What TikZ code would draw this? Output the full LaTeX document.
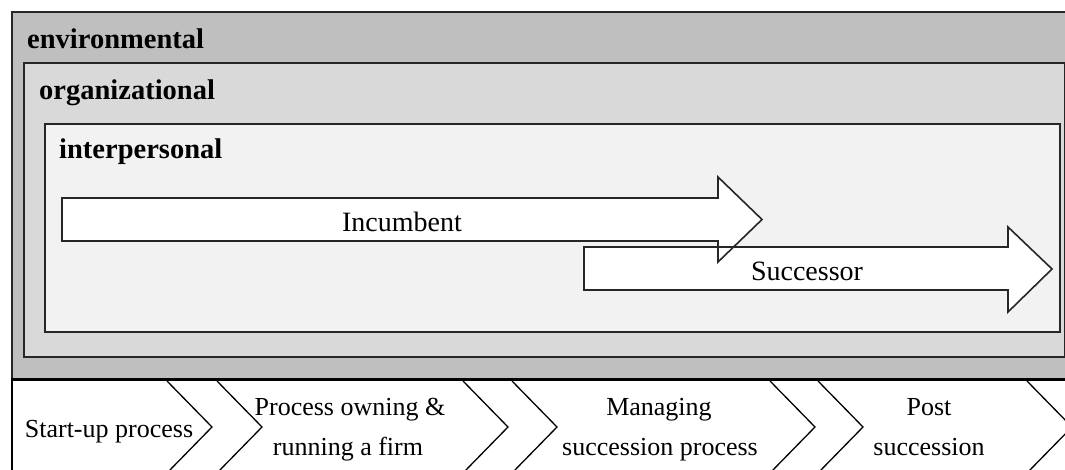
\documentclass[tikz,border=0pt]{standalone}
\usepackage{fontspec}
\setmainfont{Liberation Serif}
\definecolor{envgrey}{HTML}{BFBFBF}
\definecolor{orggrey}{HTML}{D9D9D9}
\definecolor{intgrey}{HTML}{F2F2F2}
\tikzset{
  frame/.style={draw=black!85, line width=1.6pt},
  arrowfill/.style={fill=white},
  arrowline/.style={draw=black!85, line width=1.6pt, line join=miter},
  levellabel/.style={font=\fontsize{28.5}{34}\selectfont\bfseries, anchor=base west, inner sep=0pt},
  arrowlabel/.style={font=\fontsize{28}{34}\selectfont, anchor=base, inner sep=0pt},
  steplabel/.style={font=\fontsize{26}{40}\selectfont, anchor=base, inner sep=0pt},
  chevron/.style={draw=black, line width=1.3pt},
}
\begin{document}
\begin{tikzpicture}[x=1pt, y=-1pt]
\useasboundingbox (0,0) rectangle (1065,469);
\clip (0,0) rectangle (1065,469);
\fill[white] (0,0) rectangle (1065,469);

% nested context levels
\draw[frame, fill=envgrey] (12,12) rectangle (1080,379);
\draw[frame, fill=orggrey] (24,63) rectangle (1064.5,357);
\draw[frame, fill=intgrey] (45,124) rectangle (1060,332);

\node[levellabel] (env) at (27,48) {environmental};
\node[levellabel] (org) at (39,99) {organizational};
\node[levellabel] (inter) at (59,158) {interpersonal};

% incumbent and successor arrows: fills first, then outlines
\path[arrowfill] (62,198) -- (718,198) -- (718,177) -- (762,219.5) -- (718,262) -- (718,241) -- (62,241) -- cycle;
\path[arrowfill] (584,247) -- (1008,247) -- (1008,227) -- (1052,269) -- (1008,312) -- (1008,290) -- (584,290) -- cycle;
\draw[arrowline] (62,198) -- (718,198) -- (718,177) -- (762,219.5) -- (718,262) -- (718,241) -- (62,241) -- cycle;
\draw[arrowline] (584,247) -- (1008,247) -- (1008,227) -- (1052,269) -- (1008,312) -- (1008,290) -- (584,290) -- cycle;

\node[arrowlabel] (inc) at (402,231) {Incumbent};
\node[arrowlabel] (suc) at (807,280) {Successor};

% process phases
\draw[line width=1.2pt] (12,379) -- (12,480);
\draw[line width=3pt] (11,379) -- (1080,379);

\draw[chevron] (167,381) -- (212,427) -- (167,473);
\draw[chevron] (217,381) -- (262,427) -- (217,473);
\draw[chevron] (463,381) -- (508,427) -- (463,473);
\draw[chevron] (512,381) -- (557,427) -- (512,473);
\draw[chevron] (770,381) -- (815,427) -- (770,473);
\draw[chevron] (818,381) -- (863,427) -- (818,473);
\draw[chevron] (1027,381) -- (1072,427) -- (1027,473);

\node[steplabel] (s1) at (109,437) {Start-up process};
\node[steplabel] (s2a) at (350,415) {Process owning \&};
\node[steplabel] (s2b) at (348,455) {running a firm};
\node[steplabel] (s3a) at (659,415) {Managing};
\node[steplabel] (s3b) at (660,455) {succession process};
\node[steplabel] (s4a) at (929,415) {Post};
\node[steplabel] (s4b) at (929,455) {succession};
\end{tikzpicture}
\end{document}
